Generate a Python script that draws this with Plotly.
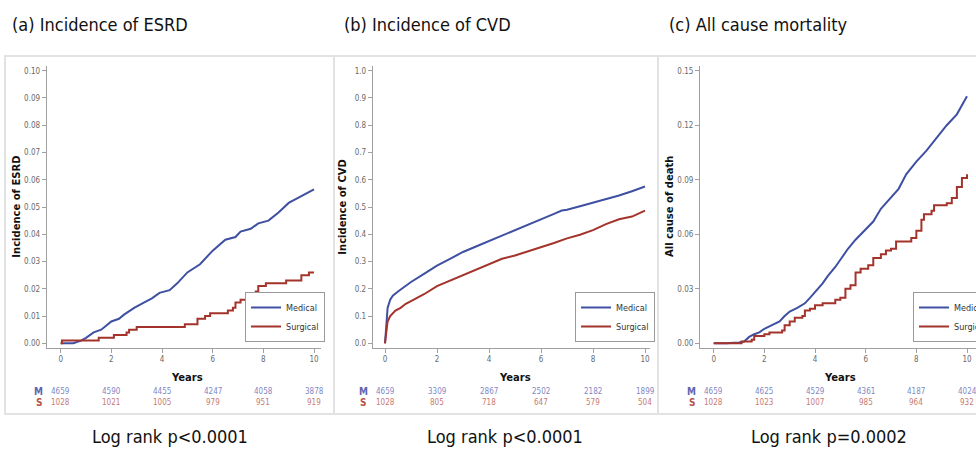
import plotly.graph_objects as go

W, H = 976, 454

# ---------------- data ----------------
# (a) Incidence of ESRD
esrd_med_x = [0, 0.5, 0.8, 1.0, 1.3, 1.6, 2.0, 2.3, 2.5, 2.9, 3.3, 3.6, 3.9, 4.3, 4.6, 5.0, 5.5, 6.0, 6.5,
              6.9, 7.1, 7.5, 7.8, 8.2, 8.6, 9.0, 9.5, 10.0]
esrd_med_y = [0, 0, 0.001, 0.002, 0.004, 0.005, 0.008, 0.009, 0.0105, 0.013, 0.015, 0.0165, 0.0185, 0.0195,
              0.022, 0.026, 0.029, 0.034, 0.038, 0.039, 0.041, 0.042, 0.044, 0.045, 0.048, 0.0515, 0.054, 0.0565]
esrd_sur_x = [0, 0.05, 1.5, 2.1, 2.6, 2.7, 3.0, 4.9, 5.4, 5.7, 5.9, 6.6, 6.8, 6.9, 7.1, 7.4, 7.6, 7.7, 7.8,
              8.1, 8.9, 9.5, 9.8, 10.0]
esrd_sur_y = [0, 0.001, 0.002, 0.003, 0.004, 0.005, 0.006, 0.007, 0.009, 0.010, 0.011, 0.012, 0.013, 0.015,
              0.016, 0.017, 0.018, 0.019, 0.021, 0.022, 0.023, 0.025, 0.026, 0.026]

# (b) Incidence of CVD
cvd_med_x = [0, 0.05, 0.1, 0.2, 0.3, 0.5, 0.8, 1.0, 1.5, 2.0, 2.5, 3.0, 3.5, 4.0, 4.5, 5.0, 5.5, 6.0, 6.5,
             6.8, 7.0, 7.5, 8.0, 8.5, 9.0, 9.5, 10.0]
cvd_med_y = [0, 0.08, 0.13, 0.16, 0.175, 0.19, 0.21, 0.225, 0.255, 0.285, 0.31, 0.335, 0.355, 0.375, 0.395,
             0.415, 0.433, 0.452, 0.475, 0.487, 0.49, 0.503, 0.516, 0.53, 0.542, 0.558, 0.575]
cvd_sur_x = [0, 0.05, 0.1, 0.2, 0.4, 0.6, 0.8, 1.0, 1.5, 2.0, 2.5, 3.0, 3.5, 4.0, 4.5, 5.0, 5.5, 6.0, 6.5,
             7.0, 7.5, 8.0, 8.5, 9.0, 9.5, 10.0]
cvd_sur_y = [0, 0.05, 0.08, 0.10, 0.12, 0.13, 0.145, 0.155, 0.18, 0.21, 0.23, 0.25, 0.27, 0.29, 0.31, 0.322,
             0.337, 0.352, 0.368, 0.385, 0.398, 0.415, 0.437, 0.455, 0.465, 0.487]

# (c) All cause mortality
mort_med_x = [0, 0.5, 1.0, 1.2, 1.4, 1.6, 1.8, 2.0, 2.3, 2.6, 2.8, 3.0, 3.3, 3.6, 3.8, 4.0, 4.3, 4.5, 4.8,
              5.0, 5.3, 5.6, 6.0, 6.3, 6.6, 7.0, 7.3, 7.6, 8.0, 8.4, 8.8, 9.2, 9.6, 10.0]
mort_med_y = [0, 0, 0.0005, 0.001, 0.0035, 0.005, 0.006, 0.008, 0.010, 0.012, 0.015, 0.0175, 0.0195, 0.022,
              0.025, 0.028, 0.033, 0.037, 0.042, 0.046, 0.052, 0.057, 0.063, 0.067, 0.074, 0.080, 0.085,
              0.093, 0.100, 0.106, 0.113, 0.120, 0.126, 0.136]
mort_sur_x = [0, 1.0, 1.1, 1.5, 1.6, 2.0, 2.2, 2.7, 2.8, 3.0, 3.2, 3.5, 3.6, 3.8, 4.0, 4.3, 4.8, 5.0, 5.2,
              5.4, 5.6, 5.8, 6.1, 6.3, 6.6, 6.8, 7.0, 7.2, 7.6, 7.8, 8.0, 8.2, 8.3, 8.6, 8.7, 9.2, 9.4,
              9.6, 9.8, 10.0]
mort_sur_y = [0, 0, 0.001, 0.002, 0.004, 0.005, 0.006, 0.007, 0.010, 0.012, 0.014, 0.015, 0.018, 0.019,
              0.021, 0.022, 0.024, 0.025, 0.030, 0.032, 0.039, 0.041, 0.043, 0.047, 0.049, 0.051, 0.052,
              0.056, 0.056, 0.058, 0.062, 0.068, 0.071, 0.073, 0.076, 0.077, 0.080, 0.086, 0.091, 0.093]

# numbers at risk
risk_years = [0, 2, 4, 6, 8, 10]
esrd_risk_m = [4659, 4590, 4455, 4247, 4058, 3878]
esrd_risk_s = [1028, 1021, 1005, 979, 951, 919]
cvd_risk_m = [4659, 3309, 2867, 2502, 2182, 1899]
cvd_risk_s = [1028, 805, 718, 647, 579, 504]
mort_risk_m = [4659, 4625, 4529, 4361, 4187, 4024]
mort_risk_s = [1028, 1023, 1007, 985, 964, 932]

panel_titles = ["(a) Incidence of ESRD", "(b) Incidence of CVD", "(c) All cause mortality"]
y_titles = ["Incidence of ESRD", "Incidence of CVD", "All cause of death"]
logrank = ["Log rank p<0.0001", "Log rank p<0.0001", "Log rank p=0.0002"]
group_names = ["Medical", "Surgical"]

# ---------------- style ----------------
BLUE = "#3f50a2"
RED = "#a3332b"
NARROW = "Liberation Sans Narrow, DejaVu Sans Condensed, Arial Narrow, sans-serif"
SANS = "DejaVu Sans, Arial, sans-serif"
AX = "#a0a0a0"


def px(x):
    return x / W


def py(y):
    return 1 - y / H


panels = [
    dict(xl=46.7, xr=321, x0=60.7, ppy=25.33, ymax=0.10, dtick=0.01, fmt=".2f"),
    dict(xl=372.7, xr=650, x0=385.0, ppy=26.0, ymax=1.0, dtick=0.1, fmt=".1f"),
    dict(xl=700.0, xr=976, x0=713.7, ppy=25.33, ymax=0.15, dtick=0.03, fmt=".2f"),
]
Y_TOP, Y_BOT, Y0, YMAXPX = 66.0, 347.7, 343.3, 70.7

series = [
    (esrd_med_x, esrd_med_y, esrd_sur_x, esrd_sur_y, "linear", "hv"),
    (cvd_med_x, cvd_med_y, cvd_sur_x, cvd_sur_y, "linear", "linear"),
    (mort_med_x, mort_med_y, mort_sur_x, mort_sur_y, "linear", "hv"),
]
risks = [(esrd_risk_m, esrd_risk_s), (cvd_risk_m, cvd_risk_s), (mort_risk_m, mort_risk_s)]

fig = go.Figure()
layout = dict(width=W, height=H, margin=dict(l=0, r=0, t=0, b=0, autoexpand=False),
              paper_bgcolor="white", plot_bgcolor="white", showlegend=True)
annotations = []
shapes = []

for (a, b) in [(5, 334), (334, 658), (658, 990)]:
    shapes.append(dict(type="rect", xref="paper", yref="paper", x0=px(a), x1=px(b), y0=py(414), y1=py(56),
                       line=dict(color="#e2e2e2", width=2), fillcolor="rgba(0,0,0,0)", layer="below"))

for i, p in enumerate(panels):
    k = "" if i == 0 else str(i + 1)
    leg = "legend" if i == 0 else "legend" + str(i + 1)
    mx, my, sx, sy, mshape, sshape = series[i]
    fig.add_trace(go.Scatter(x=mx, y=my, mode="lines", name=group_names[0],
                             line=dict(color=BLUE, width=2, shape=mshape),
                             xaxis="x" + k, yaxis="y" + k, legend=leg))
    fig.add_trace(go.Scatter(x=sx, y=sy, mode="lines", name=group_names[1],
                             line=dict(color=RED, width=2, shape=sshape),
                             xaxis="x" + k, yaxis="y" + k, legend=leg))

    xr0 = (p["xl"] - p["x0"]) / p["ppy"]
    xr1 = (p["xr"] - p["x0"]) / p["ppy"]
    yscale = (Y0 - YMAXPX) / p["ymax"]
    yr0 = (Y0 - Y_BOT) / yscale
    yr1 = (Y0 - Y_TOP) / yscale
    layout["xaxis" + k] = dict(domain=[px(p["xl"]), px(p["xr"])], range=[xr0, xr1], anchor="y" + k,
                               tickvals=risk_years, showline=True, linecolor=AX, linewidth=1,
                               ticks="outside", ticklen=4, tickcolor=AX,
                               tickfont=dict(family=NARROW, size=8, color="#6a6a6a"),
                               showgrid=False, zeroline=False)
    nt = int(round(p["ymax"] / p["dtick"]))
    layout["yaxis" + k] = dict(domain=[py(Y_BOT), py(Y_TOP)], range=[yr0, yr1], anchor="x" + k,
                               tickvals=[j * p["dtick"] for j in range(nt + 1)], tickformat=p["fmt"],
                               showline=True, linecolor=AX, linewidth=1,
                               ticks="outside", ticklen=4, tickcolor=AX,
                               tickfont=dict(family=NARROW, size=8, color="#6a6a6a"),
                               showgrid=False, zeroline=False)
    layout[leg] = dict(x=px(325 + i * 330) if i < 2 else px(913), xanchor="right" if i < 2 else "left",
                       y=py(342), yanchor="bottom", xref="paper", yref="paper",
                       bgcolor="white", bordercolor="#9a9a9a", borderwidth=1,
                       font=dict(family=NARROW, size=9, color="#333"), tracegroupgap=0,
                       itemwidth=30, traceorder="normal")
    tx = [10, 342, 667][i]
    annotations.append(dict(text=panel_titles[i], xref="paper", yref="paper", x=px(tx), y=py(25),
                            xanchor="left", yanchor="middle", showarrow=False,
                            font=dict(family=NARROW, size=18, color="#111")))
    annotations.append(dict(text="<b>" + y_titles[i] + "</b>", xref="paper", yref="paper",
                            x=px(p["xl"] - 31), y=py(207), xanchor="center", yanchor="middle",
                            textangle=-90, showarrow=False, font=dict(family=SANS, size=10, color="#111")))
    annotations.append(dict(text="<b>Years</b>", xref="x" + k, yref="paper", x=5, y=py(377),
                            xanchor="center", yanchor="middle", showarrow=False,
                            font=dict(family=SANS, size=10, color="#111")))
    rm, rs = risks[i]
    annotations.append(dict(text="<b>M</b>", xref="paper", yref="paper", x=px(p["x0"] - 22), y=py(391),
                            xanchor="center", yanchor="middle", showarrow=False,
                            font=dict(family=NARROW, size=10, color="#5b66b0")))
    annotations.append(dict(text="<b>S</b>", xref="paper", yref="paper", x=px(p["x0"] - 22), y=py(402),
                            xanchor="center", yanchor="middle", showarrow=False,
                            font=dict(family=NARROW, size=10, color="#b5534b")))
    for yy, vm, vs in zip(risk_years, rm, rs):
        annotations.append(dict(text=str(vm), xref="x" + k, yref="paper", x=yy, y=py(391),
                                xanchor="center", yanchor="middle", showarrow=False,
                                font=dict(family=NARROW, size=8, color="#8088c4")))
        annotations.append(dict(text=str(vs), xref="x" + k, yref="paper", x=yy, y=py(402),
                                xanchor="center", yanchor="middle", showarrow=False,
                                font=dict(family=NARROW, size=8, color="#c77a73")))
    annotations.append(dict(text=logrank[i], xref="paper", yref="paper", x=px([170, 505, 829][i]), y=py(436),
                            xanchor="center", yanchor="middle", showarrow=False,
                            font=dict(family=NARROW, size=18, color="#111")))

layout["annotations"] = annotations
layout["shapes"] = shapes
fig.update_layout(**layout)
fig.write_html("out.html")
